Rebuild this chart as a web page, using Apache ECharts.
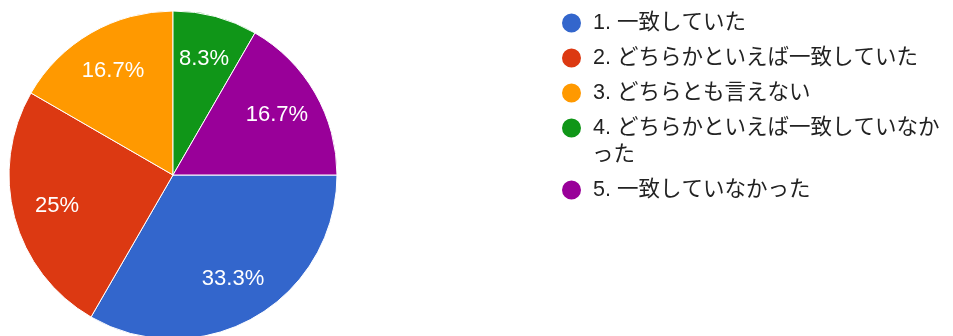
<!DOCTYPE html>
<html>
<head>
<meta charset="utf-8">
<script src="https://cdn.jsdelivr.net/npm/echarts@6/dist/echarts.min.js"></script>
<style>
  html, body { margin: 0; padding: 0; background: #fff; }
  #chart { width: 953px; height: 336px; }
</style>
</head>
<body>
<div id="chart"></div>
<script>
const categories = [
  '1. 一致していた',
  '2. どちらかといえば一致していた',
  '3. どちらとも言えない',
  '4. どちらかといえば一致していなかった',
  '5. 一致していなかった'
];
const counts = [4, 3, 2, 1, 2];
const colors = ['#3366cc', '#dc3912', '#ff9900', '#109618', '#990099'];
// legend item 4 wraps its last two characters onto a second line
const wrapIndex = 3;
const wrapTail = 2;

const FONT = 'Arial, "Liberation Sans", "Noto Sans CJK JP", sans-serif';
const pieData = categories.map((n, i) => ({ name: n, value: counts[i], itemStyle: { color: colors[i] } }));

const legendText = {
  fontFamily: FONT,
  fontSize: 21.5,
  lineHeight: 28,
  color: '#222222',
  padding: [0, 0, 0, 6]
};
const legendBase = {
  orient: 'vertical',
  left: 560,
  padding: 0,
  icon: 'circle',
  itemWidth: 21,
  itemHeight: 21,
  itemGap: 7,
  selectedMode: false,
  textStyle: legendText
};
const wrapName = categories[wrapIndex];
const wrapHead = wrapName.slice(0, wrapName.length - wrapTail);
const wrapRest = wrapName.slice(wrapName.length - wrapTail);

const chart = echarts.init(document.getElementById('chart'), null, { renderer: 'canvas' });
chart.setOption({
  animation: false,
  backgroundColor: '#ffffff',
  legend: [
    Object.assign({}, legendBase, {
      top: 9,
      data: categories.slice(0, 4),
      formatter: function (n) { return n === wrapName ? wrapHead : n; }
    }),
    Object.assign({}, legendBase, {
      top: 176,
      data: categories.slice(4)
    })
  ],
  graphic: [{
    type: 'text',
    left: 592,
    top: 141,
    silent: true,
    style: {
      text: wrapRest,
      font: '21.5px ' + FONT,
      fill: '#222222',
      lineHeight: 28
    }
  }],
  series: [
    {
      type: 'pie',
      center: [173, 175],
      radius: 164,
      startAngle: 0,
      clockwise: true,
      silent: true,
      percentPrecision: 1,
      label: { show: false },
      labelLine: { show: false },
      itemStyle: { borderColor: '#ffffff', borderWidth: 1 },
      data: pieData
    },
    {
      type: 'pie',
      center: [173, 175],
      radius: [70, 164],
      startAngle: 0,
      clockwise: true,
      silent: true,
      percentPrecision: 1,
      z: 3,
      itemStyle: { color: 'rgba(0,0,0,0)', borderWidth: 0 },
      label: {
        show: true,
        position: 'inside',
        color: '#ffffff',
        fontFamily: FONT,
        fontSize: 22,
        formatter: function (p) { return p.percent + '%'; }
      },
      labelLine: { show: false },
      data: categories.map((n, i) => ({ name: n, value: counts[i] }))
    }
  ]
});
</script>
</body>
</html>
